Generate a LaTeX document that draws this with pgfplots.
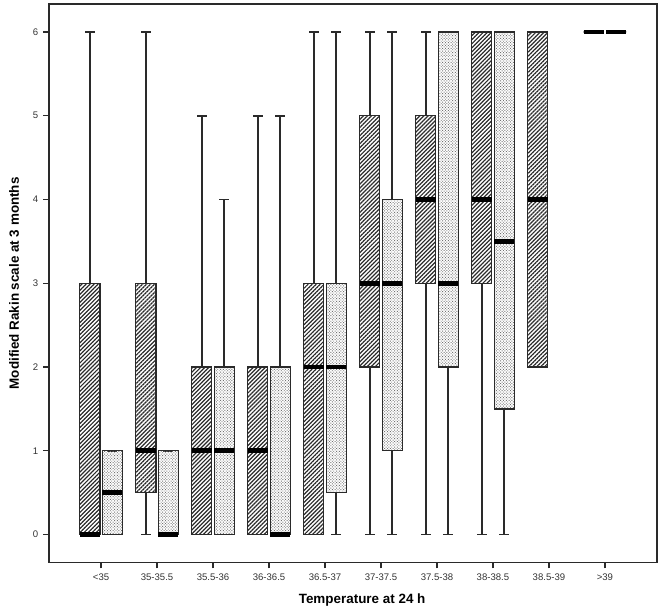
\documentclass[border=0pt]{standalone}
\usepackage{fontspec}
\setmainfont{Liberation Sans}
\usepackage{pgfplots}
\pgfplotsset{compat=1.18}
\usepgfplotslibrary{statistics}
\usetikzlibrary{patterns.meta}
\definecolor{boxInk}{HTML}{2A2A2A}

\pgfplotsset{
  hatched/.style={draw=boxInk, line width=0.8pt, solid,
    pattern={Lines[angle=45,distance=2.0pt,line width=0.85pt]}, pattern color=boxInk},
  dotted/.style={draw=boxInk, line width=0.8pt, solid, preaction={fill=black!10},
    pattern={Dots[distance=1.4pt,angle=45,radius=0.45pt]}, pattern color=black!55},
}

\begin{document}
\begin{tikzpicture}
\begin{axis}[
  scale only axis, width=425.6pt, height=391pt,
  xmin=-0.93, xmax=9.93, ymin=-0.334, ymax=6.334,
  xtick={0,...,9},
  xticklabels={<35,35-35.5,35.5-36,36-36.5,36.5-37,37-37.5,37.5-38,38-38.5,38.5-39,>39},
  ytick={0,...,6},
  tick pos=left, tick align=outside, major tick length=4pt,
  tick style={line width=0.8pt, boxInk},
  axis line style={line width=0.8pt, boxInk},
  tick label style={font=\fontsize{6.7}{8}\selectfont, text=black!80},
  /pgf/number format/assume math mode=true,
  xlabel={Temperature at 24 h}, ylabel={Modified Rakin scale at 3 months},
  label style={font=\fontsize{9.4}{11}\bfseries},
  xlabel style={at={(axis description cs:0.515,-0.0665)}, anchor=center},
  ylabel style={at={(axis description cs:-0.0576,0.5)}, anchor=center},
  boxplot/draw direction=y,
  boxplot/box extend=0.36,
  boxplot/whisker extend=0.17,
  boxplot/every median/.style={line width=3.4pt, black},
  boxplot/every whisker/.style={line width=1.2pt, boxInk},
]
% hatched series (left of each tick)
\addplot[hatched, boxplot prepared={draw position=-0.2, lower whisker=0, lower quartile=0, median=0, upper quartile=3, upper whisker=6}] coordinates {};
\addplot[hatched, boxplot prepared={draw position=0.8, lower whisker=0, lower quartile=0.5, median=1, upper quartile=3, upper whisker=6}] coordinates {};
\addplot[hatched, boxplot prepared={draw position=1.8, lower whisker=0, lower quartile=0, median=1, upper quartile=2, upper whisker=5}] coordinates {};
\addplot[hatched, boxplot prepared={draw position=2.8, lower whisker=0, lower quartile=0, median=1, upper quartile=2, upper whisker=5}] coordinates {};
\addplot[hatched, boxplot prepared={draw position=3.8, lower whisker=0, lower quartile=0, median=2, upper quartile=3, upper whisker=6}] coordinates {};
\addplot[hatched, boxplot prepared={draw position=4.8, lower whisker=0, lower quartile=2, median=3, upper quartile=5, upper whisker=6}] coordinates {};
\addplot[hatched, boxplot prepared={draw position=5.8, lower whisker=0, lower quartile=3, median=4, upper quartile=5, upper whisker=6}] coordinates {};
\addplot[hatched, boxplot prepared={draw position=6.8, lower whisker=0, lower quartile=3, median=4, upper quartile=6, upper whisker=6}] coordinates {};
\addplot[hatched, boxplot prepared={draw position=7.8, lower whisker=2, lower quartile=2, median=4, upper quartile=6, upper whisker=6}] coordinates {};
\addplot[hatched, boxplot prepared={draw position=8.8, lower whisker=6, lower quartile=6, median=6, upper quartile=6, upper whisker=6}] coordinates {};
% dotted series (right of each tick)
\addplot[dotted, boxplot prepared={draw position=0.2, lower whisker=0, lower quartile=0, median=0.5, upper quartile=1, upper whisker=1}] coordinates {};
\addplot[dotted, boxplot prepared={draw position=1.2, lower whisker=0, lower quartile=0, median=0, upper quartile=1, upper whisker=1}] coordinates {};
\addplot[dotted, boxplot prepared={draw position=2.2, lower whisker=0, lower quartile=0, median=1, upper quartile=2, upper whisker=4}] coordinates {};
\addplot[dotted, boxplot prepared={draw position=3.2, lower whisker=0, lower quartile=0, median=0, upper quartile=2, upper whisker=5}] coordinates {};
\addplot[dotted, boxplot prepared={draw position=4.2, lower whisker=0, lower quartile=0.5, median=2, upper quartile=3, upper whisker=6}] coordinates {};
\addplot[dotted, boxplot prepared={draw position=5.2, lower whisker=0, lower quartile=1, median=3, upper quartile=4, upper whisker=6}] coordinates {};
\addplot[dotted, boxplot prepared={draw position=6.2, lower whisker=0, lower quartile=2, median=3, upper quartile=6, upper whisker=6}] coordinates {};
\addplot[dotted, boxplot prepared={draw position=7.2, lower whisker=0, lower quartile=1.5, median=3.5, upper quartile=6, upper whisker=6}] coordinates {};
\addplot[dotted, boxplot prepared={draw position=9.2, lower whisker=6, lower quartile=6, median=6, upper quartile=6, upper whisker=6}] coordinates {};
\end{axis}
\pgfresetboundingbox
\path ([shift={(-34.3pt,-35pt)}]current axis.south west) rectangle ([shift={(3.5pt,2.8pt)}]current axis.north east);
\end{tikzpicture}
\end{document}
